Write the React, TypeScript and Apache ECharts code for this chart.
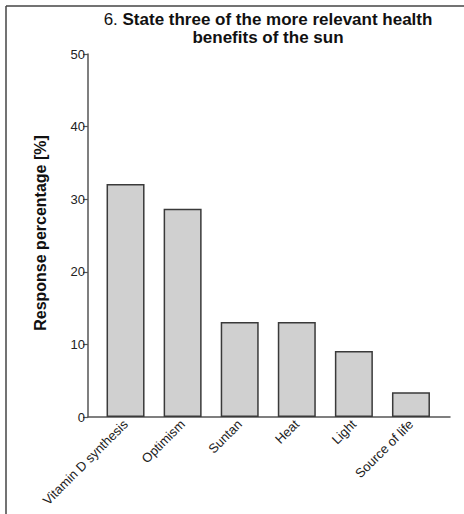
import React, { useEffect, useRef } from "react";
import * as echarts from "echarts";

const categories = [
  "Vitamin D synthesis",
  "Optimism",
  "Suntan",
  "Heat",
  "Light",
  "Source of life",
];
const responses = [32.1, 28.7, 13.1, 13.1, 9.1, 3.4];
const yMin = 0;
const yMax = 50;
const yStep = 10;

const FONT = "'Liberation Sans', Arial, Helvetica, sans-serif";
const AXIS_COLOR = "#555";
const TEXT_COLOR = "#222";

export default function App() {
  const ref = useRef<HTMLDivElement>(null);

  useEffect(() => {
    if (!ref.current) return;
    const chart = echarts.init(ref.current, null, { renderer: "svg" });
    chart.setOption({
      animation: false,
      backgroundColor: "#fff",
      textStyle: { fontFamily: FONT },
      grid: [
        // bars
        { left: 97, right: 24.5, top: 54, bottom: 97 },
        // axis frame (y axis + baseline)
        { left: 88, right: 14, top: 54, bottom: 97 },
      ],
      xAxis: [
        {
          type: "category",
          gridIndex: 0,
          data: categories,
          axisLine: { show: false },
          axisTick: { show: false },
          axisLabel: {
            rotate: 45,
            margin: 5,
            interval: 0,
            fontSize: 13,
            color: TEXT_COLOR,
            fontFamily: FONT,
          },
        },
        {
          type: "value",
          gridIndex: 1,
          min: 0,
          max: 1,
          axisLine: { show: true, onZero: false, lineStyle: { color: AXIS_COLOR, width: 1.5 } },
          axisTick: { show: false },
          axisLabel: { show: false },
          splitLine: { show: false },
        },
      ],
      yAxis: [
        {
          type: "value",
          gridIndex: 0,
          min: yMin,
          max: yMax,
          interval: yStep,
          show: false,
        },
        {
          type: "value",
          gridIndex: 1,
          min: yMin,
          max: yMax,
          interval: yStep,
          axisLine: { show: true, lineStyle: { color: AXIS_COLOR, width: 1.5 } },
          axisTick: { show: true, length: 5, lineStyle: { color: AXIS_COLOR, width: 1.2 } },
          axisLabel: { fontSize: 13, color: TEXT_COLOR, margin: 3, fontFamily: FONT },
          splitLine: { show: false },
        },
      ],
      series: [
        {
          type: "bar",
          xAxisIndex: 0,
          yAxisIndex: 0,
          data: responses,
          barWidth: 38,
          itemStyle: {
            color: "#d0d0d0",
            borderColor: "#3a3a3a",
            borderWidth: 1.5,
          },
        },
      ],
      graphic: [
        { type: "line", shape: { x1: 6, y1: 6, x2: 464, y2: 6 }, style: { stroke: "#444", lineWidth: 1.5 } },
        { type: "line", shape: { x1: 6, y1: 6, x2: 6, y2: 514 }, style: { stroke: "#444", lineWidth: 1.5 } },
        {
          type: "text",
          x: 268,
          y: 19,
          style: {
            text: "{n|6. }{b|State three of the more relevant health}",
            align: "center",
            verticalAlign: "middle",
            rich: {
              n: { fontSize: 17, fontFamily: FONT, fill: "#111", fontWeight: "normal" },
              b: { fontSize: 17, fontFamily: FONT, fill: "#111", fontWeight: "bold" },
            },
          },
        },
        {
          type: "text",
          x: 268,
          y: 37,
          style: {
            text: "benefits of the sun",
            align: "center",
            verticalAlign: "middle",
            fontSize: 17,
            fontWeight: "bold",
            fontFamily: FONT,
            fill: "#111",
          },
        },
        {
          type: "text",
          x: 40,
          y: 233,
          rotation: Math.PI / 2,
          style: {
            text: "Response percentage [%]",
            align: "center",
            verticalAlign: "middle",
            fontSize: 16,
            fontWeight: "bold",
            fontFamily: FONT,
            fill: "#111",
          },
        },
      ],
    });
    return () => chart.dispose();
  }, []);

  return <div ref={ref} style={{ width: 464, height: 514, position: "absolute", left: 0, top: 0 }} />;
}
